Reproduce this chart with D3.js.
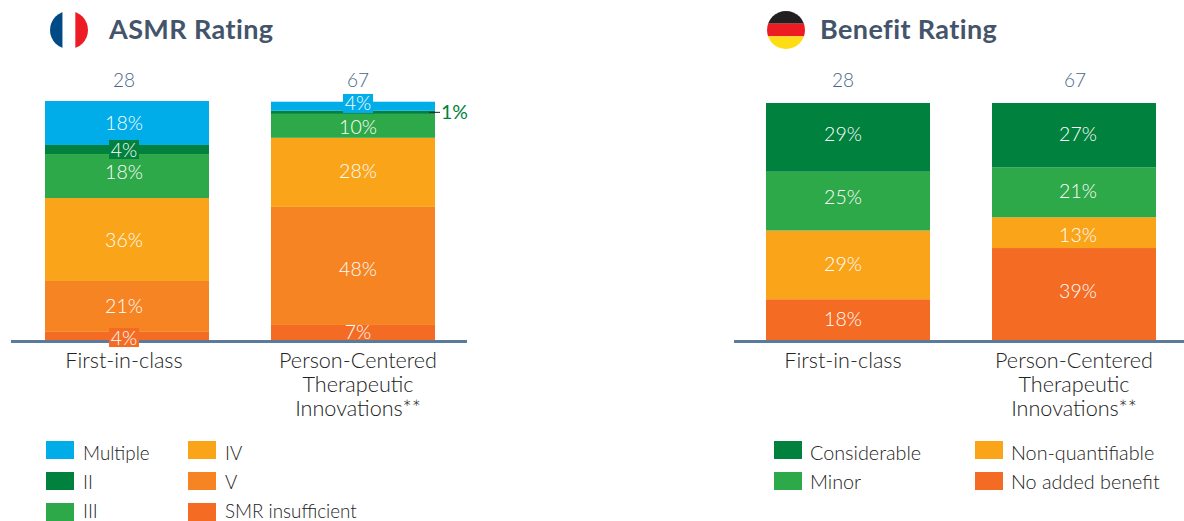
<!DOCTYPE html>
<html>
<head>
<meta charset="utf-8">
<script src="https://cdn.jsdelivr.net/npm/d3@7"></script>
<style>
  html, body { margin: 0; padding: 0; background: #fff; }
  svg { display: block; font-family: Lato, sans-serif; }
  .title { font-size: 27px; font-weight: 700; fill: #44546a; letter-spacing: 0.4px; }
  .count { font-size: 19px; font-weight: 300; fill: #456689; text-anchor: middle; }
  .pct { font-size: 19.5px; font-weight: 300; fill: #fff; text-anchor: middle; }
  .cat { font-size: 21.6px; font-weight: 300; fill: #222; text-anchor: middle; }
  .leg { font-weight: 300; fill: #222; }
</style>
</head>
<body>
<svg id="chart" width="1184" height="521"></svg>
<script>
// Categories and counts
const categories = [['First-in-class'], ['Person-Centered', 'Therapeutic', 'Innovations**']];
const counts = ['28', '67'];

// ASMR panel, bottom segment first (heights, labels as printed)
const asmrKeys = ['SMR insufficient', 'V', 'IV', 'III', 'II', 'Multiple'];
const asmrFirst = [3.4, 21.3, 34.7, 18.4, 3.8, 18.4];
const asmrPerson = [6.3, 49.4, 28.9, 10, 1.3, 3.8];
const asmrFirstLabels = ['4%', '21%', '36%', '18%', '4%', '18%'];
const asmrPersonLabels = ['7%', '48%', '28%', '10%', '1%', '4%'];

// Benefit panel, bottom segment first
const benefitKeys = ['No added benefit', 'Non-quantifiable', 'Minor', 'Considerable'];
const benefitFirst = [17.2, 29, 24.8, 29];
const benefitPerson = [38.8, 13, 21, 27.2];
const benefitFirstLabels = ['18%', '29%', '25%', '29%'];
const benefitPersonLabels = ['39%', '13%', '21%', '27%'];

const colors = {
  'Multiple': '#00ade9', 'II': '#00813d', 'III': '#2ea949', 'IV': '#faa41a',
  'V': '#f68423', 'SMR insufficient': '#f46c23',
  'Considerable': '#00813d', 'Minor': '#2ea949',
  'Non-quantifiable': '#faa41a', 'No added benefit': '#f46c23'
};

const svg = d3.select('#chart');
const BASE_Y = 340;

/* ── Panel ───────────────────────────────────────────── */

function drawPanel(p) {
  const g = svg.append('g');
  const x = d3.scaleBand().domain([0, 1]).range(p.xRange).paddingInner(62 / 226).paddingOuter(0);
  const y = d3.scaleLinear().domain([0, 100]).range([BASE_Y, BASE_Y - p.unit * 100]);
  const mid = i => x(i) + x.bandwidth() / 2;

  const rows = [p.first, p.person].map(vals => Object.fromEntries(p.keys.map((k, i) => [k, vals[i]])));
  const series = d3.stack().keys(p.keys)(rows);
  const labels = [p.firstLabels, p.personLabels];

  // Bars
  series.forEach(s => {
    g.selectAll(null).data(s).join('rect')
      .attr('x', (d, i) => x(i))
      .attr('y', d => y(d[1]))
      .attr('width', x.bandwidth())
      .attr('height', d => y(d[0]) - y(d[1]))
      .attr('fill', colors[s.key]);
  });

  // Unboxed labels go under the baseline, boxed ones over it
  const boxed = [], callouts = [];
  series.forEach((s, si) => {
    s.forEach((d, i) => {
      const t = labels[i][si];
      const cx = mid(i) + p.pctShift[i];
      const cy = (y(d[0]) + y(d[1])) / 2;
      if (t === '1%') callouts.push({ t, x: x(i) + x.bandwidth(), y: cy });
      else if (t === '4%') boxed.push({ t, x: cx, y: cy + p.pctDy[i][si], fill: colors[s.key] });
      else g.append('text').attr('class', 'pct').attr('x', cx).attr('y', cy + p.pctDy[i][si] + 7).text(t);
    });
  });

  // Baseline
  g.append('line')
    .attr('x1', p.lineX[0]).attr('x2', p.lineX[1])
    .attr('y1', BASE_Y + 1.5).attr('y2', BASE_Y + 1.5)
    .attr('stroke', '#5b7a9c').attr('stroke-width', 3);

  boxed.forEach(b => {
    g.append('rect').attr('x', b.x - 15).attr('y', b.y - 9.5).attr('width', 30).attr('height', 19).attr('fill', b.fill);
    g.append('text').attr('class', 'pct').attr('x', b.x).attr('y', b.y + 7).text(b.t);
  });

  callouts.forEach(c => {
    g.append('line').attr('x1', c.x - 6).attr('x2', c.x + 5).attr('y1', c.y).attr('y2', c.y).attr('stroke', '#222');
    g.append('text').attr('class', 'pct').style('text-anchor', 'start').style('fill', '#00813d').style('font-weight', 400)
      .attr('x', c.x + 6).attr('y', c.y + 7).text(c.t);
  });

  // Counts and category names
  counts.forEach((c, i) => {
    g.append('text').attr('class', 'count').attr('x', mid(i) + p.countShift[i]).attr('y', 87).text(c);
  });
  categories.forEach((lines, i) => {
    lines.forEach((l, j) => {
      g.append('text').attr('class', 'cat').attr('x', mid(i) + p.catShift[i]).attr('y', 368 + j * 24).text(l);
    });
  });

  // Title
  g.append('text').attr('class', 'title').attr('x', p.titleX).attr('y', 39).text(p.title);

  // Legend
  p.legend.forEach(it => {
    g.append('rect').attr('x', it.x).attr('y', 441 + it.row * 31).attr('width', 28).attr('height', 18).attr('fill', colors[it.k]);
    g.append('text').attr('class', 'leg').style('font-size', p.legSize + 'px')
      .attr('x', it.x + p.legGap).attr('y', 460 + it.row * 29).text(it.k);
  });
}

/* ── Flags ───────────────────────────────────────────── */

function drawFlag(id, cx, cy, r, bands, vertical) {
  svg.append('clipPath').attr('id', id).append('circle').attr('cx', cx).attr('cy', cy).attr('r', r);
  const f = svg.append('g').attr('clip-path', `url(#${id})`);
  const w = 2 * r / bands.length;
  bands.forEach((c, i) => {
    f.append('rect')
      .attr('x', vertical ? cx - r + i * w : cx - r)
      .attr('y', vertical ? cy - r : cy - r + i * w)
      .attr('width', vertical ? w : 2 * r)
      .attr('height', vertical ? 2 * r : w)
      .attr('fill', c);
  });
}

drawPanel({
  title: 'ASMR Rating', titleX: 109, keys: asmrKeys,
  first: asmrFirst, person: asmrPerson, firstLabels: asmrFirstLabels, personLabels: asmrPersonLabels,
  xRange: [45, 435], lineX: [11, 467], unit: 2.39, legGap: 37, legSize: 18.8,
  countShift: [-3, 5], catShift: [-3, 5], pctShift: [-3, 5],
  pctDy: [[1.6, 0, 0, -4, 0, 0.5], [0, 3, -1, 1, 0, -2.8]],
  legend: [
    { k: 'Multiple', x: 46, row: 0 }, { k: 'II', x: 46, row: 1 }, { k: 'III', x: 46, row: 2 },
    { k: 'IV', x: 188, row: 0 }, { k: 'V', x: 188, row: 1 }, { k: 'SMR insufficient', x: 188, row: 2 }
  ]
});

drawPanel({
  title: 'Benefit Rating', titleX: 820, keys: benefitKeys,
  first: benefitFirst, person: benefitPerson, firstLabels: benefitFirstLabels, personLabels: benefitPersonLabels,
  xRange: [766, 1156], lineX: [734, 1184], unit: 2.37, legGap: 36, legSize: 19.8,
  countShift: [-5, 1], catShift: [-5, 0], pctShift: [-5, 4],
  pctDy: [[-1, -1, -4, -3], [-3, 2, -1, -1]],
  legend: [
    { k: 'Considerable', x: 774, row: 0 }, { k: 'Minor', x: 774, row: 1 },
    { k: 'Non-quantifiable', x: 975, row: 0 }, { k: 'No added benefit', x: 975, row: 1 }
  ]
});

drawFlag('fr', 69, 30, 19, ['#004b85', '#ffffff', '#ed1c24'], true);
drawFlag('de', 786, 30, 19, ['#231f20', '#ed1c24', '#ffdd15'], false);
</script>
</body>
</html>
